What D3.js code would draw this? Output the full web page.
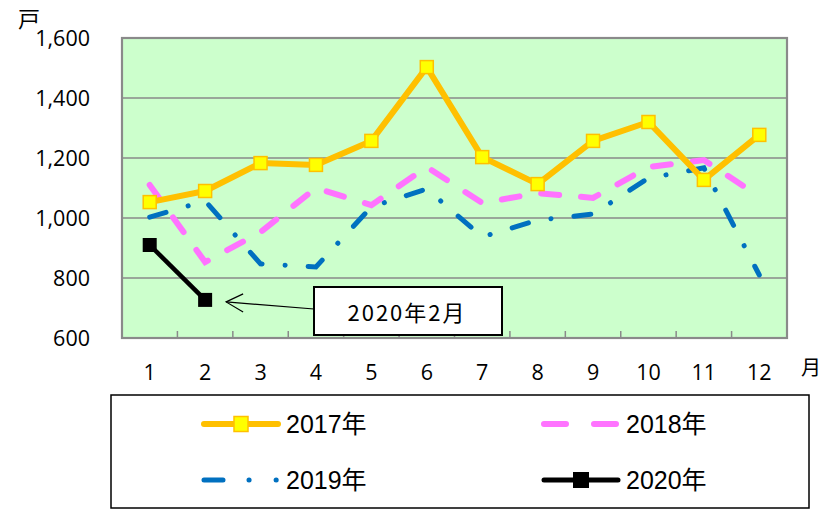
<!DOCTYPE html>
<html>
<head>
<meta charset="utf-8">
<script src="https://cdn.jsdelivr.net/npm/d3@7"></script>
<style>
  body { margin: 0; background: #fff; }
  text { font-family: "Open Sans", sans-serif; }
</style>
</head>
<body>
<script>
"use strict";

var months = ["1","2","3","4","5","6","7","8","9","10","11","12"];
var yTicks = [600, 800, 1000, 1200, 1400, 1600];
var s2017 = [1053, 1090, 1183, 1177, 1257, 1503, 1203, 1113, 1257, 1320, 1127, 1277];
var s2018 = [1110, 853, 953, 1100, 1043, 1170, 1050, 1083, 1067, 1170, 1193, 1072];
var s2019 = [1003, 1057, 847, 837, 1037, 1097, 937, 993, 1013, 1133, 1167, 810];
var s2020 = [910, 727];
var seriesNames = ["2017年", "2018年", "2019年", "2020年"];

var W = 830, H = 512;
var m = { left: 122, right: 787, top: 38, bottom: 338 };

var svg = d3.select("body").append("svg").attr("width", W).attr("height", H);

var x = d3.scaleBand().domain(months).range([m.left, m.right]).padding(0);
var y = d3.scaleLinear().domain([600, 1600]).range([m.bottom, m.top]);

// plot background
svg.append("rect")
  .attr("x", m.left).attr("y", m.top)
  .attr("width", m.right - m.left).attr("height", m.bottom - m.top)
  .attr("fill", "#ccffcc");

// gridlines
svg.selectAll("line.grid").data(yTicks.slice(1, -1)).enter().append("line")
  .attr("class", "grid")
  .attr("x1", m.left).attr("x2", m.right)
  .attr("y1", function(d){ return y(d); }).attr("y2", function(d){ return y(d); })
  .attr("stroke", "#8a8a8a").attr("stroke-width", 1.5);

// x tick marks (category boundaries)
svg.selectAll("line.xt").data(months.slice(1)).enter().append("line")
  .attr("class", "xt")
  .attr("x1", function(d){ return x(d); }).attr("x2", function(d){ return x(d); })
  .attr("y1", m.bottom).attr("y2", m.bottom - 7)
  .attr("stroke", "#8a8a8a").attr("stroke-width", 1.5);

// frame
svg.append("rect")
  .attr("x", m.left).attr("y", m.top)
  .attr("width", m.right - m.left).attr("height", m.bottom - m.top)
  .attr("fill", "none").attr("stroke", "#8a8a8a").attr("stroke-width", 2.2);

// y labels
svg.selectAll("text.yl").data(yTicks).enter().append("text")
  .attr("class", "yl")
  .attr("x", 90).attr("y", function(d){ return y(d) + 8; })
  .attr("text-anchor", "end").attr("font-size", 21.5)
  .text(d3.format(","));

// x labels
svg.selectAll("text.xl").data(months).enter().append("text")
  .attr("class", "xl")
  .attr("x", function(d){ return x(d) + x.bandwidth() / 2; }).attr("y", 380)
  .attr("text-anchor", "middle").attr("font-size", 21.5)
  .text(function(d){ return d; });

svg.append("text").attr("x", 18).attr("y", 27).attr("font-size", 22)
  .style("font-family", "'Noto Sans CJK JP'").text("戸");
svg.append("text").attr("x", 801).attr("y", 375).attr("font-size", 20)
  .style("font-family", "'Noto Sans CJK JP'").text("月");

var line = d3.line()
  .x(function(d, i){ return x(months[i]) + x.bandwidth() / 2; })
  .y(function(d){ return y(d); });

// 2019
svg.append("path").datum(s2019).attr("d", line)
  .attr("fill", "none").attr("stroke", "#0070c0").attr("stroke-width", 5)
  .attr("stroke-linecap", "round").attr("stroke-dasharray", "17,23,0.1,23");

// 2018
svg.append("path").datum(s2018).attr("d", line)
  .attr("fill", "none").attr("stroke", "#ff73ff").attr("stroke-width", 6)
  .attr("stroke-linecap", "round").attr("stroke-dasharray", "18,22");

// 2017
svg.append("path").datum(s2017).attr("d", line)
  .attr("fill", "none").attr("stroke", "#ffc000").attr("stroke-width", 6)
  .attr("stroke-linejoin", "round");
svg.selectAll("rect.m17").data(s2017).enter().append("rect")
  .attr("class", "m17")
  .attr("x", function(d, i){ return x(months[i]) + x.bandwidth() / 2 - 6.5; })
  .attr("y", function(d){ return y(d) - 6.5; })
  .attr("width", 13).attr("height", 13)
  .attr("fill", "#ffff00").attr("stroke", "#ffc000").attr("stroke-width", 1.5);

// 2020
svg.append("path").datum(s2020).attr("d", line)
  .attr("fill", "none").attr("stroke", "#000").attr("stroke-width", 4.5);
svg.selectAll("rect.m20").data(s2020).enter().append("rect")
  .attr("class", "m20")
  .attr("x", function(d, i){ return x(months[i]) + x.bandwidth() / 2 - 7; })
  .attr("y", function(d){ return y(d) - 7; })
  .attr("width", 14).attr("height", 14)
  .attr("fill", "#000");

// annotation
var tipX = x(months[1]) + x.bandwidth() / 2 + 21, tipY = y(s2020[1]) + 2;
svg.append("line").attr("x1", 314).attr("y1", 309).attr("x2", tipX).attr("y2", tipY)
  .attr("stroke", "#000").attr("stroke-width", 1.2);
svg.append("path")
  .attr("d", "M" + (tipX + 17) + "," + (tipY - 8) + "L" + tipX + "," + tipY + "L" + (tipX + 17) + "," + (tipY + 10))
  .attr("fill", "none").attr("stroke", "#000").attr("stroke-width", 1.2);
svg.append("rect").attr("x", 314).attr("y", 287).attr("width", 188).attr("height", 48)
  .attr("fill", "#fff").attr("stroke", "#000").attr("stroke-width", 2);
svg.append("text").attr("x", 407).attr("y", 321).attr("text-anchor", "middle")
  .attr("font-size", 22).style("font-family", "'Noto Sans CJK JP'")
  .attr("letter-spacing", 2).text("2020年2月");

// legend
svg.append("rect").attr("x", 111).attr("y", 395).attr("width", 698).attr("height", 113)
  .attr("fill", "#fff").attr("stroke", "#000").attr("stroke-width", 1.5);

var lg = [
  { x: 204, y: 424 }, { x: 544, y: 424 }, { x: 204, y: 480 }, { x: 544, y: 480 }
];
var L = 74;
// 2017
svg.append("line").attr("x1", lg[0].x).attr("x2", lg[0].x + L).attr("y1", lg[0].y).attr("y2", lg[0].y)
  .attr("stroke", "#ffc000").attr("stroke-width", 6).attr("stroke-linecap", "round");
svg.append("rect").attr("x", lg[0].x + L / 2 - 7).attr("y", lg[0].y - 7.5).attr("width", 14).attr("height", 15)
  .attr("fill", "#ffff00").attr("stroke", "#ffc000").attr("stroke-width", 1.5);
// 2018
svg.append("line").attr("x1", lg[1].x).attr("x2", lg[1].x + L).attr("y1", lg[1].y).attr("y2", lg[1].y)
  .attr("stroke", "#ff73ff").attr("stroke-width", 6).attr("stroke-linecap", "round")
  .attr("stroke-dasharray", "22,28");
// 2019
svg.append("line").attr("x1", lg[2].x).attr("x2", lg[2].x + L).attr("y1", lg[2].y).attr("y2", lg[2].y)
  .attr("stroke", "#0070c0").attr("stroke-width", 5).attr("stroke-linecap", "round")
  .attr("stroke-dasharray", "19,26,0.1,27,0.1,40");
// 2020
svg.append("line").attr("x1", lg[3].x).attr("x2", lg[3].x + L).attr("y1", lg[3].y).attr("y2", lg[3].y)
  .attr("stroke", "#000").attr("stroke-width", 5).attr("stroke-linecap", "round");
svg.append("rect").attr("x", lg[3].x + L / 2 - 8).attr("y", lg[3].y - 8).attr("width", 16).attr("height", 16)
  .attr("fill", "#000");

svg.selectAll("text.lg").data(seriesNames).enter().append("text")
  .attr("class", "lg")
  .attr("x", function(d, i){ return lg[i].x + L + 8; })
  .attr("y", function(d, i){ return lg[i].y + 9; })
  .attr("font-size", 25)
  .style("font-family", "'Liberation Sans', 'Noto Sans CJK JP'")
  .text(function(d){ return d; });
</script>
</body>
</html>
